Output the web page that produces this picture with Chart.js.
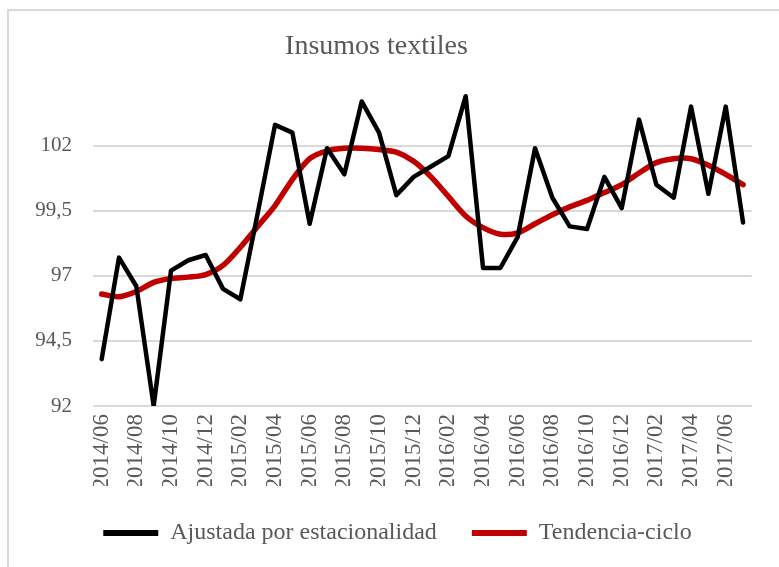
<!DOCTYPE html>
<html>
<head>
<meta charset="utf-8">
<title>Insumos textiles</title>
<script src="https://cdn.jsdelivr.net/npm/chart.js@4.4.1/dist/chart.umd.min.js"></script>
<style>
    html, body { margin: 0; padding: 0; background: #fff; }
    #wrap { position: relative; width: 779px; height: 567px; overflow: hidden; }
    #frame {
        position: absolute; left: 7px; top: 9px; width: 900px; height: 700px;
        border-left: 2px solid #d9d9d9; border-top: 2px solid #d9d9d9;
    }
    #chart { position: absolute; left: 0; top: 0; }
</style>
</head>
<body>
<div id="wrap">
    <div id="frame"></div>
    <canvas id="chart" width="779" height="567"></canvas>
</div>
<script>
// Months 2014/06 .. 2017/07
const months = [
    '2014/06', '2014/07', '2014/08', '2014/09', '2014/10', '2014/11', '2014/12',
    '2015/01', '2015/02', '2015/03', '2015/04', '2015/05', '2015/06', '2015/07',
    '2015/08', '2015/09', '2015/10', '2015/11', '2015/12',
    '2016/01', '2016/02', '2016/03', '2016/04', '2016/05', '2016/06', '2016/07',
    '2016/08', '2016/09', '2016/10', '2016/11', '2016/12',
    '2017/01', '2017/02', '2017/03', '2017/04', '2017/05', '2017/06', '2017/07'
];

// Ajustada por estacionalidad
const seasonallyAdjusted = [
    93.8, 97.7, 96.6, 92.0, 97.2, 97.6, 97.8,
    96.5, 96.1, 99.4, 102.8, 102.5, 99.0, 101.9,
    100.9, 103.7, 102.5, 100.1, 100.8,
    101.2, 101.6, 103.9, 97.3, 97.3, 98.5, 101.9,
    100.0, 98.9, 98.8, 100.8, 99.6,
    103.0, 100.5, 100.0, 103.5, 100.15, 103.5, 99.05
];

// Tendencia-ciclo
const trendCycle = [
    96.3, 96.2, 96.4, 96.75, 96.9, 96.95, 97.05,
    97.4, 98.1, 98.9, 99.7, 100.7, 101.5, 101.8,
    101.9, 101.9, 101.85, 101.75, 101.4,
    100.8, 100.05, 99.3, 98.85, 98.6, 98.65, 99.0,
    99.35, 99.65, 99.9, 100.2, 100.5,
    100.95, 101.35, 101.5, 101.5, 101.25, 100.9, 100.5
];

const yTicks = [92, 94.5, 97, 99.5, 102];

const serif = "'Liberation Serif', 'Times New Roman', serif";
const textGray = '#595959';

// nudge the legend to the right, like the original
const legendShift = {
    id: 'legendShift',
    afterLayout(chart) {
        chart.legend.left += 21;
        chart.legend.right += 21;
    }
};

new Chart(document.getElementById('chart').getContext('2d'), {
    type: 'line',
    data: {
        labels: months,
        datasets: [
            {
                label: 'Ajustada por estacionalidad',
                data: seasonallyAdjusted,
                borderColor: '#000000',
                backgroundColor: '#000000',
                borderWidth: 4.5,
                pointRadius: 0,
                tension: 0,
                borderJoinStyle: 'round',
                borderCapStyle: 'round'
            },
            {
                label: 'Tendencia-ciclo',
                data: trendCycle,
                borderColor: '#c00000',
                backgroundColor: '#c00000',
                borderWidth: 5.5,
                pointRadius: 0,
                tension: 0.3,
                borderCapStyle: 'round'
            }
        ]
    },
    plugins: [legendShift],
    options: {
        responsive: false,
        animation: false,
        layout: { padding: { left: 0, right: 26, top: 0, bottom: 12 } },
        plugins: {
            title: {
                display: true,
                text: 'Insumos textiles',
                color: textGray,
                font: { family: serif, size: 28, weight: 'normal' },
                padding: { top: 30, bottom: 17 }
            },
            legend: {
                position: 'bottom',
                labels: {
                    color: textGray,
                    font: { family: serif, size: 24 },
                    boxWidth: 55,
                    boxHeight: 6,
                    padding: 35,
                    generateLabels: chart => Chart.defaults.plugins.legend.labels
                        .generateLabels(chart)
                        .map(item => ({ ...item, lineWidth: 0 }))
                }
            },
            tooltip: { enabled: false }
        },
        scales: {
            x: {
                offset: true,
                grid: { display: false, drawTicks: false },
                border: { display: false },
                ticks: {
                    color: textGray,
                    font: { family: serif, size: 23 },
                    autoSkip: false,
                    minRotation: 90,
                    maxRotation: 90,
                    padding: 8,
                    callback: (v, i) => (i % 2 === 0 ? months[i] : '')
                },
                afterFit: axis => { axis.height = 80; }
            },
            y: {
                min: 92,
                max: 104.5,
                grid: { color: '#d9d9d9', lineWidth: 2, drawTicks: false },
                border: { display: false },
                ticks: {
                    color: textGray,
                    font: { family: serif, size: 21 },
                    padding: 21,
                    callback: v => String(v).replace('.', ',')
                },
                afterBuildTicks: axis => { axis.ticks = yTicks.map(v => ({ value: v })); },
                afterFit: axis => { axis.width = 93; }
            }
        }
    }
});
</script>
</body>
</html>
